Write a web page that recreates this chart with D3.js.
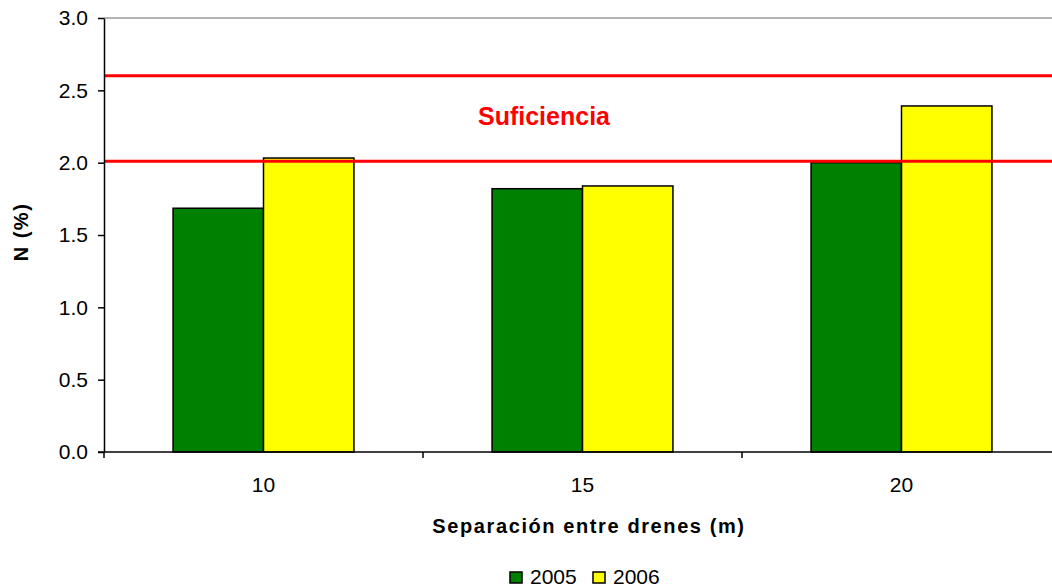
<!DOCTYPE html>
<html>
<head>
<meta charset="utf-8">
<script src="https://cdn.jsdelivr.net/npm/d3@7"></script>
<style>
 body { margin: 0; background: #fff; }
 text { font-family: "Liberation Sans", Arial, sans-serif; }
</style>
</head>
<body>
<svg id="graph"></svg>
<script>
// datos
const categories = ["10", "15", "20"];
const seriesNames = ["2005", "2006"];
const values2005 = [1.685, 1.82, 2.0];
const values2006 = [2.032, 1.839, 2.392];
const yTicks = [0, 0.5, 1.0, 1.5, 2.0, 2.5, 3.0];
const suficiencia = [2.01, 2.6];
const colors = ["#008000", "#ffff00"];

let width = 1052;
let height = 588;
let plotLeft = 104, plotRight = 1061, plotTop = 18, plotBottom = 452;

let svg = d3.select("#graph")
 .attr("width", width)
 .attr("height", height);

let scaleX = d3.scaleBand()
 .domain(categories)
 .range([plotLeft, plotRight]);

let scaleY = d3.scaleLinear()
 .domain([0, 3])
 .range([plotBottom, plotTop]);

let groupW = scaleX.bandwidth() * 0.567;
let scaleS = d3.scaleBand()
 .domain(seriesNames)
 .range([0, groupW]);

// línea superior gris
svg.append("line")
 .attr("x1", plotLeft).attr("x2", width)
 .attr("y1", scaleY(3)).attr("y2", scaleY(3))
 .attr("stroke", "#999").attr("stroke-width", 1.5);

// barras
let rows = categories.map((c, i) => ({ cat: c, vals: [values2005[i], values2006[i]] }));
let groups = svg.selectAll(".grp")
 .data(rows)
 .enter()
 .append("g")
 .attr("transform", d => `translate(${scaleX(d.cat) + (scaleX.bandwidth() - groupW) / 2}, 0)`);

groups.selectAll("rect")
 .data(d => d.vals.map((v, j) => ({ s: seriesNames[j], v: v, j: j })))
 .enter()
 .append("rect")
 .attr("x", d => scaleS(d.s))
 .attr("width", scaleS.bandwidth())
 .attr("y", d => scaleY(d.v))
 .attr("height", d => scaleY(0) - scaleY(d.v))
 .attr("fill", d => colors[d.j])
 .attr("stroke", "#000")
 .attr("stroke-width", 1.5);

// líneas de suficiencia
svg.selectAll(".suf")
 .data(suficiencia)
 .enter()
 .append("line")
 .attr("x1", plotLeft).attr("x2", width)
 .attr("y1", d => scaleY(d)).attr("y2", d => scaleY(d))
 .attr("stroke", "#ff0000").attr("stroke-width", 3);

svg.append("text")
 .attr("x", 544).attr("y", 125)
 .attr("text-anchor", "middle")
 .attr("font-size", 25).attr("font-weight", "bold")
 .attr("fill", "#ff0000")
 .text("Suficiencia");

// eje Y
let axisY = d3.axisLeft(scaleY)
 .tickValues(yTicks)
 .tickFormat(d3.format(".1f"))
 .tickSize(6)
 .tickPadding(10)
 .tickSizeOuter(0);
let gy = svg.append("g")
 .attr("transform", `translate(${plotLeft}, 0)`)
 .call(axisY);
gy.select(".domain").attr("stroke", "#000").attr("stroke-width", 1.5);
gy.selectAll(".tick line").attr("stroke", "#000").attr("stroke-width", 1.5);
gy.selectAll("text").attr("font-size", 21).attr("fill", "#000")
 .attr("font-family", "Liberation Sans, Arial, sans-serif");

// eje X
svg.append("line")
 .attr("x1", plotLeft - 6).attr("x2", width)
 .attr("y1", plotBottom).attr("y2", plotBottom)
 .attr("stroke", "#000").attr("stroke-width", 1.5);
let bounds = categories.map(c => scaleX(c));
svg.selectAll(".xt")
 .data(bounds)
 .enter()
 .append("line")
 .attr("x1", d => d).attr("x2", d => d)
 .attr("y1", plotBottom).attr("y2", plotBottom + 6)
 .attr("stroke", "#000").attr("stroke-width", 1.5);
svg.selectAll(".xl")
 .data(categories)
 .enter()
 .append("text")
 .attr("x", d => scaleX(d) + scaleX.bandwidth() / 2)
 .attr("y", 492)
 .attr("text-anchor", "middle")
 .attr("font-size", 21)
 .text(d => d);

// títulos
svg.append("text")
 .attr("x", 589).attr("y", 533)
 .attr("text-anchor", "middle")
 .attr("font-size", 20).attr("font-weight", "bold")
 .attr("letter-spacing", 1.6)
 .text("Separación entre drenes (m)");

svg.append("text")
 .attr("transform", "translate(28, 232) rotate(-90)")
 .attr("text-anchor", "middle")
 .attr("font-size", 20).attr("font-weight", "bold")
 .attr("letter-spacing", 1.5)
 .text("N (%)");

// leyenda
let legX = [510, 593];
let leg = svg.selectAll(".leg")
 .data(seriesNames)
 .enter()
 .append("g")
 .attr("transform", (d, i) => `translate(${legX[i]}, 572)`);
leg.append("rect")
 .attr("width", 12).attr("height", 11)
 .attr("fill", (d, i) => colors[i])
 .attr("stroke", "#000").attr("stroke-width", 1.5);
leg.append("text")
 .attr("x", 20).attr("y", 11.5)
 .attr("font-size", 21)
 .text(d => d);
</script>
</body>
</html>
